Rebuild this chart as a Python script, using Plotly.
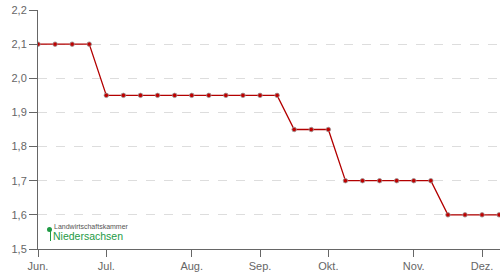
import plotly.graph_objects as go

# Data
prices = [2.10, 2.10, 2.10, 2.10,
          1.95, 1.95, 1.95, 1.95, 1.95, 1.95, 1.95, 1.95, 1.95, 1.95, 1.95,
          1.85, 1.85, 1.85,
          1.70, 1.70, 1.70, 1.70, 1.70, 1.70,
          1.60, 1.60, 1.60, 1.60]
week_index = list(range(len(prices)))
month_labels = ["Jun.", "Jul.", "Aug.", "Sep.", "Okt.", "Nov.", "Dez."]
month_positions = [0, 4, 9, 13, 17, 22, 26]
y_ticks = [1.5, 1.6, 1.7, 1.8, 1.9, 2.0, 2.1, 2.2]

fig = go.Figure()
fig.add_trace(go.Scatter(
    x=week_index, y=prices, mode="lines+markers",
    line=dict(color="#b30000", width=1.3),
    marker=dict(size=4.5, color="#c00000", line=dict(color="#999999", width=0.8)),
    hoverinfo="skip", showlegend=False,
))

axis_font = dict(family="Liberation Sans, Arial, sans-serif", size=11, color="#666666")
fig.update_layout(
    width=500, height=280,
    margin=dict(l=38, r=0, t=10, b=31),
    paper_bgcolor="white", plot_bgcolor="white",
    separators=",.",
    xaxis=dict(
        range=[0, 27.05], tickmode="array", tickvals=month_positions, ticktext=month_labels,
        showgrid=False, zeroline=False, showline=True, linecolor="#666666", linewidth=1,
        ticks="outside", ticklen=7, tickcolor="#666666", tickfont=axis_font,
    ),
    yaxis=dict(
        range=[1.5, 2.2], tickmode="array", tickvals=y_ticks, tickformat=".1f",
        showgrid=True, gridcolor="#dddddd", griddash="dash", gridwidth=1,
        zeroline=False, showline=True, linecolor="#666666", linewidth=1,
        ticks="outside", ticklen=8, tickcolor="#666666", tickfont=axis_font,
    ),
)

fig.add_annotation(xref="paper", yref="paper", x=(52 - 38) / 462, y=(249 - 226) / 239,
                   text="Landwirtschaftskammer", showarrow=False, xanchor="left", yanchor="middle",
                   font=dict(family="Liberation Sans, Arial, sans-serif", size=7, color="#555555"))
fig.add_annotation(xref="paper", yref="paper", x=(51 - 38) / 462, y=(249 - 236) / 239,
                   text="Niedersachsen", showarrow=False, xanchor="left", yanchor="middle",
                   font=dict(family="Liberation Sans, Arial, sans-serif", size=10.5, color="#239a45"))
fig.add_shape(type="circle", xref="paper", yref="paper",
              x0=(47 - 38) / 462, x1=(52 - 38) / 462, y0=(249 - 232) / 239, y1=(249 - 227) / 239,
              fillcolor="#1f9a44", line=dict(width=0))
fig.add_shape(type="line", xref="paper", yref="paper",
              x0=(50.5 - 38) / 462, x1=(50.5 - 38) / 462, y0=(249 - 241) / 239, y1=(249 - 231) / 239,
              line=dict(color="#1f9a44", width=1))

fig.write_html("out.html")
